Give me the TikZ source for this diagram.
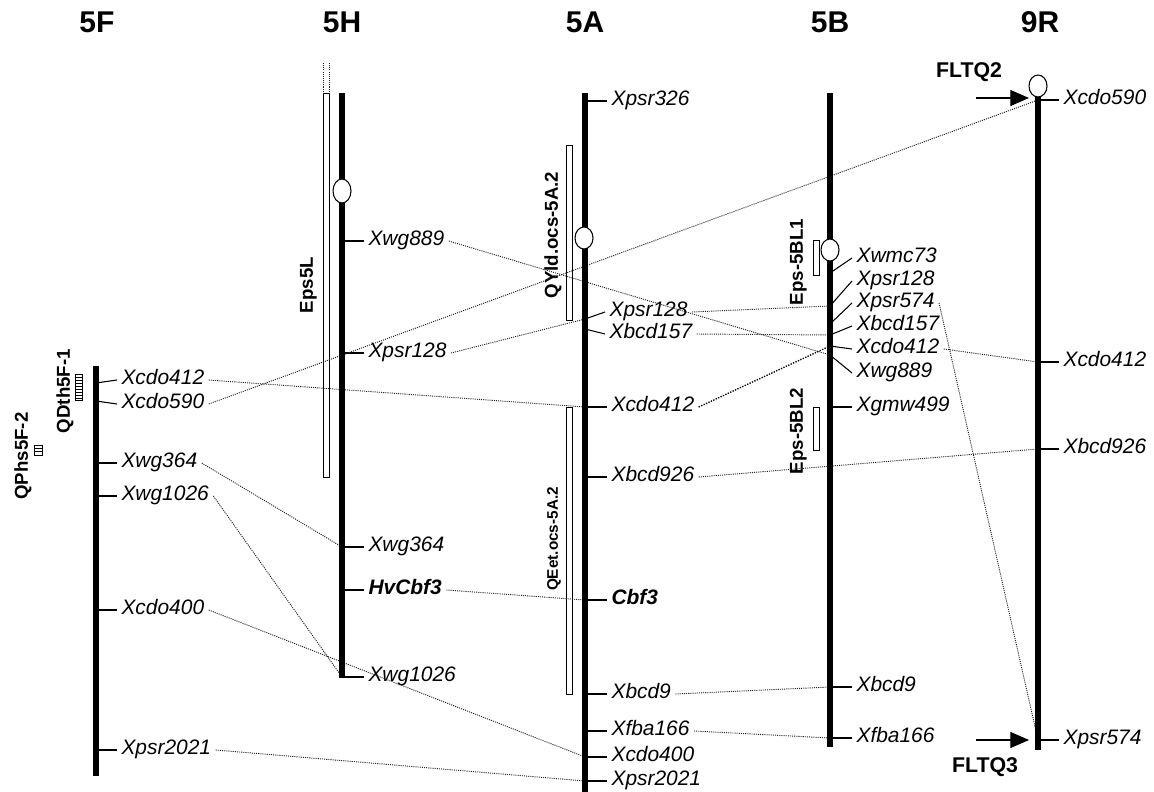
\documentclass[tikz,border=0pt]{standalone}
\usepackage{fontspec}
\setmainfont{Liberation Sans}
\usetikzlibrary{arrows.meta}

\begin{document}
\begin{tikzpicture}[x=0.75pt,y=0.75pt,yscale=-1,xscale=1,
  chrom/.style={line width=3.8pt},
  tick/.style={line width=0.8pt},
  link/.style={black!85,line width=0.7pt,dash pattern=on 0.8pt off 0.8pt},
  boldlink/.style={black,line width=1pt,dash pattern=on 1pt off 1pt},
  mk/.style={anchor=west,inner sep=3pt,font=\fontsize{15.7}{17}\selectfont\itshape,text height=0.72em,text depth=0pt},
  mkb/.style={mk,font=\fontsize{15.7}{17}\selectfont\bfseries\itshape},
  qtl/.style={draw,line width=0.6pt,fill=white},
  qlab/.style={rotate=90,inner sep=0pt,font=\fontsize{14}{15}\selectfont\bfseries,text height=0.72em,text depth=0pt},
  hdr/.style={inner sep=0pt,font=\fontsize{22.5}{24}\selectfont\bfseries,text height=0.72em,text depth=0pt},
  fltq/.style={inner sep=0pt,font=\fontsize{16}{18}\selectfont\bfseries,text height=0.72em,text depth=0pt},
  cen/.style={draw,line width=0.8pt,fill=white},
  flarrow/.style={line width=0.9pt,-{Triangle[length=14pt,width=12pt]}}
]
\useasboundingbox (0,0) rectangle (1154,792);

% Chromosome names
\node [hdr] (n5F) at (97,28) {5F};
\node [hdr] (n5H) at (342,28) {5H};
\node [hdr] (n5A) at (585,28) {5A};
\node [hdr] (n5B) at (830,28) {5B};
\node [hdr] (n9R) at (1040,28) {9R};

% QTL intervals
\draw [qtl] (323,93) rectangle (329,477);
\draw [link] (323,63) -- (323,93) (329,63) -- (329,93);
\draw [qtl] (566,145) rectangle (572,320);
\draw [qtl] (566,407) rectangle (572,694);
\draw [qtl] (813,240) rectangle (819,275);
\draw [qtl] (813,407) rectangle (819,450);
\draw [qtl] (75,374) rectangle (82,400);
\foreach \y in {377,380,...,398} \draw [line width=0.5pt] (75,\y) -- (82,\y);
\draw [qtl] (34,445) rectangle (42,455);
\foreach \y in {448,451} \draw [line width=0.5pt] (34,\y) -- (42,\y);

% QTL names
\node [qlab] (qDth) at (65,391) {QDth5F-1};
\node [qlab] (qPhs) at (23,456) {QPhs5F-2};
\node [qlab] (qEps5L) at (308,285) {Eps5L};
\node [qlab] (qYld) at (553,235) {QYld.ocs-5A.2};
\node [qlab,font=\fontsize{11.5}{13}\selectfont\bfseries] (qEet) at (553,539) {QEet.ocs-5A.2};
\node [qlab] (qBL1) at (798,262) {Eps-5BL1};
\node [qlab] (qBL2) at (798,431) {Eps-5BL2};

% Markers on 5F
\coordinate (F-cdo412) at (96,383);
\coordinate (F-cdo590) at (96,401);
\coordinate (F-wg364) at (96,463);
\coordinate (F-wg1026) at (96,496);
\coordinate (F-cdo400) at (96,610);
\coordinate (F-psr2021) at (96,750);
\draw [tick] (F-cdo412) -- (117,380) node [mk] (lF-cdo412) {Xcdo412};
\draw [tick] (F-cdo590) -- (117,404) node [mk] (lF-cdo590) {Xcdo590};
\draw [tick] (F-wg364) -- ++(21,0) node [mk] (lF-wg364) {Xwg364};
\draw [tick] (F-wg1026) -- ++(21,0) node [mk] (lF-wg1026) {Xwg1026};
\draw [tick] (F-cdo400) -- ++(21,0) node [mk] (lF-cdo400) {Xcdo400};
\draw [tick] (F-psr2021) -- ++(21,0) node [mk] (lF-psr2021) {Xpsr2021};

% Markers on 5H
\coordinate (H-wg889) at (342,241);
\coordinate (H-psr128) at (342,353);
\coordinate (H-wg364) at (342,547);
\coordinate (H-cbf3) at (342,590);
\coordinate (H-wg1026) at (342,677);
\draw [tick] (H-wg889) -- ++(22,0) node [mk] (lH-wg889) {Xwg889};
\draw [tick] (H-psr128) -- ++(22,0) node [mk] (lH-psr128) {Xpsr128};
\draw [tick] (H-wg364) -- ++(22,0) node [mk] (lH-wg364) {Xwg364};
\draw [tick] (H-cbf3) -- ++(22,0) node [mkb] (lH-cbf3) {HvCbf3};
\draw [tick] (H-wg1026) -- ++(22,0) node [mk] (lH-wg1026) {Xwg1026};

% Markers on 5A
\coordinate (A-psr326) at (585,101);
\coordinate (A-psr128) at (585,319);
\coordinate (A-bcd157) at (585,329);
\coordinate (A-cdo412) at (585,407);
\coordinate (A-bcd926) at (585,477);
\coordinate (A-cbf3) at (585,600);
\coordinate (A-bcd9) at (585,694);
\coordinate (A-fba166) at (585,731);
\coordinate (A-cdo400) at (585,757);
\coordinate (A-psr2021) at (585,781);
\draw [tick] (A-psr326) -- ++(22,0) node [mk] (lA-psr326) {Xpsr326};
\draw [tick] (A-psr128) -- (605,312) node [mk] (lA-psr128) {Xpsr128};
\draw [tick] (A-bcd157) -- (605,334) node [mk] (lA-bcd157) {Xbcd157};
\draw [tick] (A-cdo412) -- ++(22,0) node [mk] (lA-cdo412) {Xcdo412};
\draw [tick] (A-bcd926) -- ++(22,0) node [mk] (lA-bcd926) {Xbcd926};
\draw [tick] (A-cbf3) -- ++(22,0) node [mkb] (lA-cbf3) {Cbf3};
\draw [tick] (A-bcd9) -- ++(22,0) node [mk] (lA-bcd9) {Xbcd9};
\draw [tick] (A-fba166) -- ++(22,0) node [mk] (lA-fba166) {Xfba166};
\draw [tick] (A-cdo400) -- ++(22,0) node [mk] (lA-cdo400) {Xcdo400};
\draw [tick] (A-psr2021) -- ++(22,0) node [mk] (lA-psr2021) {Xpsr2021};

% Markers on 5B
\coordinate (B-wmc73) at (830,273);
\coordinate (B-psr128) at (830,306);
\coordinate (B-psr574) at (830,324);
\coordinate (B-bcd157) at (830,335);
\coordinate (B-cdo412) at (830,346);
\coordinate (B-wg889) at (830,355);
\coordinate (B-gmw499) at (830,407);
\coordinate (B-bcd9) at (830,687);
\coordinate (B-fba166) at (830,738);
\draw [tick] (B-wmc73) -- (852,258) node [mk] (lB-wmc73) {Xwmc73};
\draw [tick] (B-psr128) -- (852,281) node [mk] (lB-psr128) {Xpsr128};
\draw [tick] (B-psr574) -- (852,303) node [mk] (lB-psr574) {Xpsr574};
\draw [tick] (B-bcd157) -- (852,326) node [mk] (lB-bcd157) {Xbcd157};
\draw [tick] (B-cdo412) -- (852,349) node [mk] (lB-cdo412) {Xcdo412};
\draw [tick] (B-wg889) -- (852,373) node [mk] (lB-wg889) {Xwg889};
\draw [tick] (B-gmw499) -- ++(22,0) node [mk] (lB-gmw499) {Xgmw499};
\draw [tick] (B-bcd9) -- ++(22,0) node [mk] (lB-bcd9) {Xbcd9};
\draw [tick] (B-fba166) -- ++(22,0) node [mk] (lB-fba166) {Xfba166};

% Markers on 9R
\coordinate (R-cdo590) at (1038,100);
\coordinate (R-cdo412) at (1038,362);
\coordinate (R-bcd926) at (1038,449);
\coordinate (R-psr574) at (1038,740);
\draw [tick] (R-cdo590) -- ++(21,0) node [mk] (lR-cdo590) {Xcdo590};
\draw [tick] (R-cdo412) -- ++(21,0) node [mk] (lR-cdo412) {Xcdo412};
\draw [tick] (R-bcd926) -- ++(21,0) node [mk] (lR-bcd926) {Xbcd926};
\draw [tick] (R-psr574) -- ++(21,0) node [mk] (lR-psr574) {Xpsr574};

% Links between homologous markers
\draw [link] (lF-cdo412.east) -- (A-cdo412);
\draw [link] (lF-cdo590.east) -- (R-cdo590);
\draw [link] (lF-wg364.east) -- (H-wg364);
\draw [link] (lF-wg1026.east) -- (H-wg1026);
\draw [link] (lF-cdo400.east) -- (A-cdo400);
\draw [link] (lF-psr2021.east) -- (A-psr2021);
\draw [link] (lH-wg889.east) -- (B-wg889);
\draw [link] (lH-psr128.east) -- (A-psr128);
\draw [link] (lH-cbf3.east) -- (A-cbf3);
\draw [link] (lA-psr128.east) -- (B-psr128);
\draw [link] (lA-bcd157.east) -- (B-bcd157);
\draw [boldlink] (lA-cdo412.east) -- (B-cdo412);
\draw [link] (lA-bcd926.east) -- (R-bcd926);
\draw [link] (lA-bcd9.east) -- (B-bcd9);
\draw [link] (lA-fba166.east) -- (B-fba166);
\draw [link] (lB-cdo412.east) -- (R-cdo412);
\draw [link] (lB-psr574.east) -- (R-psr574);

% Chromosomes
\draw [chrom] (96,366) -- (96,776);
\draw [chrom] (342,93) -- (342,678);
\draw [chrom] (585,93) -- (585,792);
\draw [chrom] (830,93) -- (830,747);
\draw [chrom] (1038,97) -- (1038,750);

% Centromeres
\draw [cen] (342,191) ellipse [x radius=9, y radius=12];
\draw [cen] (584,238) ellipse [x radius=9, y radius=11];
\draw [cen] (830,250) ellipse [x radius=9, y radius=11];
\draw [cen] (1038,86) ellipse [x radius=9, y radius=11];

% FLTQ arrows
\node [fltq] (fltq2) at (969,73) {FLTQ2};
\coordinate (fltq2-s) at (976,98);
\draw [flarrow] (fltq2-s) -- (1029,98);
\node [fltq] (fltq3) at (985,768) {FLTQ3};
\coordinate (fltq3-s) at (976,740);
\draw [flarrow] (fltq3-s) -- (1029,740);

\end{tikzpicture}
\end{document}
